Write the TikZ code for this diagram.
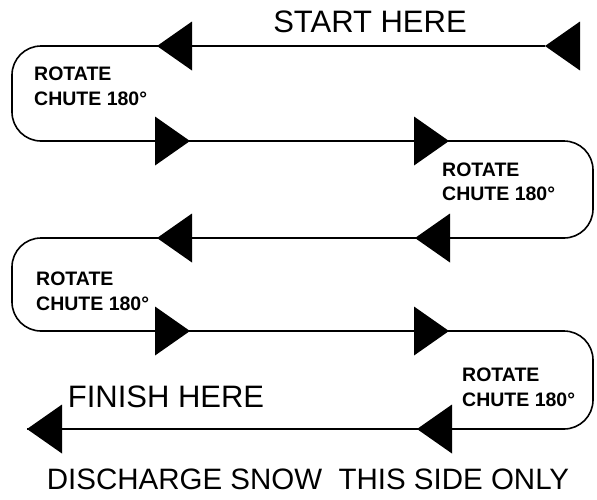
\documentclass[tikz,border=0pt]{standalone}
\usepackage{fontspec}
\setmainfont{Liberation Sans}
\begin{document}
\begin{tikzpicture}[x=1pt,y=-1pt,
  route/.style={line width=1.6pt, rounded corners=29pt},
  larr/.pic={\fill (0,0) -- (35,24.5) -- (35,-24.5) -- cycle;},
  rarr/.pic={\fill (0,0) -- (-35,24.5) -- (-35,-24.5) -- cycle;},
  bigtxt/.style={font=\fontsize{31}{36}\selectfont, inner sep=0pt, anchor=base},
  smalltxt/.style={font=\fontsize{19.5}{22}\selectfont\bfseries, inner sep=0pt, anchor=base west}]
\useasboundingbox (0,0) rectangle (597,499);
% route
\coordinate (s) at (545,46);
\coordinate (e) at (27,429);
\draw[route] (s) -- (12,46) -- (12,141) -- (593,141) -- (593,238) -- (12,238)
  -- (12,331) -- (593,331) -- (593,429) -- (e);
% arrowheads
\pic at (545,46) {larr};
\pic at (157,46) {larr};
\pic at (190,141) {rarr};
\pic at (449,141) {rarr};
\pic at (157,238) {larr};
\pic at (415,238) {larr};
\pic at (190,331) {rarr};
\pic at (449,331) {rarr};
\pic at (417,429) {larr};
\pic at (27,429) {larr};
% labels
\node[bigtxt] (start) at (370,32) {START HERE};
\node[bigtxt] (finish) at (166,407) {FINISH HERE};
\node[bigtxt, font=\fontsize{29.5}{36}\selectfont] (disch) at (308,489) {DISCHARGE SNOW \ THIS SIDE ONLY};
\node[smalltxt] (r1a) at (34,80) {ROTATE};
\node[smalltxt] (r1b) at (34,105) {CHUTE 180°};
\node[smalltxt] (r2a) at (442,176) {ROTATE};
\node[smalltxt] (r2b) at (442,200) {CHUTE 180°};
\node[smalltxt] (r3a) at (36,285) {ROTATE};
\node[smalltxt] (r3b) at (36,310) {CHUTE 180°};
\node[smalltxt] (r4a) at (462,381) {ROTATE};
\node[smalltxt] (r4b) at (462,406) {CHUTE 180°};
\end{tikzpicture}
\end{document}
